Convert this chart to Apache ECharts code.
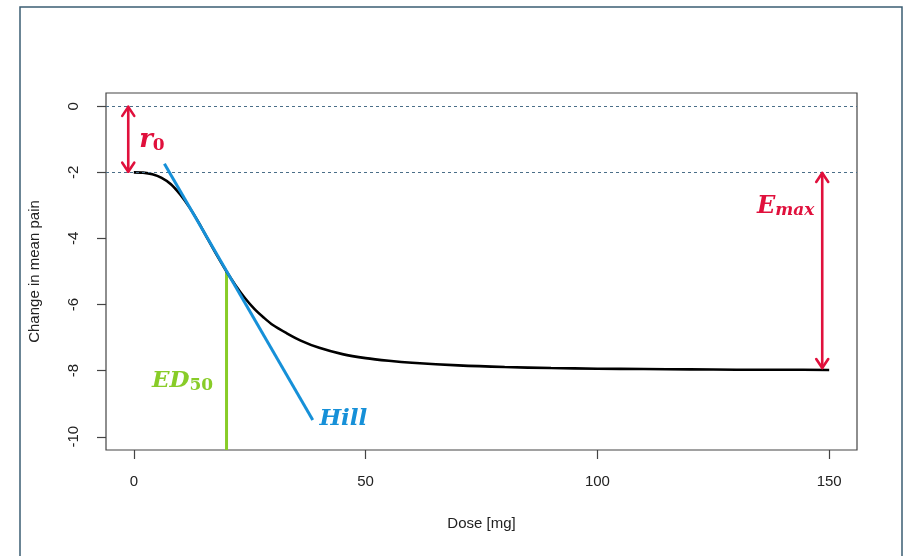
<!DOCTYPE html>
<html>
<head>
<meta charset="utf-8">
<script src="https://cdn.jsdelivr.net/npm/echarts@6/dist/echarts.min.js"></script>
<style>
  html, body { margin: 0; padding: 0; background: #fff; }
  #chart { width: 912px; height: 556px; }
</style>
</head>
<body>
<div id="chart"></div>
<script>
// dose-response curve
const doses = [0, 2, 4, 6, 8, 10, 12, 14, 16, 18, 20, 22, 24, 26, 28, 30, 33, 36, 40, 45, 50, 55, 60, 70, 80, 90, 100, 110, 120, 130, 140, 150];
const response = [-2.00, -2.01, -2.06, -2.17, -2.36, -2.67, -3.06, -3.52, -4.03, -4.53, -5.00, -5.43, -5.81, -6.13, -6.39, -6.62, -6.87, -7.09, -7.31, -7.50, -7.62, -7.70, -7.76, -7.84, -7.89, -7.92, -7.94, -7.95, -7.96, -7.97, -7.97, -7.98];

const hillLine = [[6.6, -1.74], [38.6, -9.49]];
const ed50Line = [[20, -5.0], [20, -10.4]];
const refLevels = [0, -2];
// [x, yFrom, yTo]
const arrows = [[-1.2, -0.02, -1.98], [148.5, -2.02, -7.92]];

const xTicks = [0, 50, 100, 150];
const yTicks = [-10, -8, -6, -4, -2, 0];

const COL_RED = "#e0103c";
const COL_BLUE = "#1690d8";
const COL_GREEN = "#88cc28";
const MATH_FONT = "'DejaVu Serif', 'Liberation Serif', serif";

const chart = echarts.init(document.getElementById("chart"), null, { renderer: "canvas" });

function arrowItem(params, api) {
  const a = api.coord([api.value(0), api.value(1)]);
  const b = api.coord([api.value(0), api.value(2)]);
  const h = 9, w = 6;
  const st = { stroke: COL_RED, lineWidth: 2.6, fill: null, lineCap: "round", lineJoin: "round" };
  return {
    type: "group",
    children: [
      { type: "line", shape: { x1: a[0], y1: a[1], x2: b[0], y2: b[1] }, style: st },
      { type: "polyline", shape: { points: [[a[0] - w, a[1] + h], [a[0], a[1]], [a[0] + w, a[1] + h]] }, style: st },
      { type: "polyline", shape: { points: [[b[0] - w, b[1] - h], [b[0], b[1]], [b[0] + w, b[1] - h]] }, style: st }
    ]
  };
}

function textLabel(x, y, fmt, rich) {
  Object.keys(rich).forEach(k => { rich[k].textBorderWidth = 0; rich[k].textShadowBlur = 0; });
  return {
    type: "scatter",
    data: [[x, y]],
    symbolSize: 0,
    silent: true,
    itemStyle: { color: "transparent" },
    label: { show: true, position: "inside", formatter: fmt, rich: rich, textBorderWidth: 0, opacity: 1 },
    z: 10
  };
}

chart.setOption({
  animation: false,
  graphic: [{
    type: "rect",
    shape: { x: 20, y: 7, width: 882, height: 570 },
    style: { fill: null, stroke: "#3b5d73", lineWidth: 1.5 },
    silent: true
  }],
  grid: {
    left: 106, right: 55, top: 93, bottom: 106,
    show: true, borderColor: "#444", borderWidth: 1.2, backgroundColor: "transparent"
  },
  xAxis: {
    type: "value",
    min: -6, max: 156,
    name: "Dose [mg]",
    nameLocation: "middle",
    nameGap: 66,
    nameTextStyle: { fontFamily: "Liberation Sans, Arial", fontSize: 15, color: "#222" },
    axisLine: { show: false, onZero: false },
    axisTick: { show: true, inside: false, customValues: xTicks, length: 9, lineStyle: { color: "#444", width: 1.2 } },
    axisLabel: { customValues: xTicks, margin: 24, fontFamily: "Liberation Sans, Arial", fontSize: 15, color: "#222" },
    splitLine: { show: false }
  },
  yAxis: {
    type: "value",
    min: -10.4, max: 0.4,
    name: "Change in mean pain",
    nameLocation: "middle",
    nameGap: 64,
    nameTextStyle: { fontFamily: "Liberation Sans, Arial", fontSize: 15, color: "#222" },
    axisLine: { show: false, onZero: false },
    axisTick: { show: true, inside: false, customValues: yTicks, length: 9, lineStyle: { color: "#444", width: 1.2 } },
    axisLabel: { customValues: yTicks, rotate: 90, margin: 25, fontFamily: "Liberation Sans, Arial", fontSize: 15, color: "#222" },
    splitLine: { show: false }
  },
  series: [
    {
      name: "ref",
      type: "line",
      data: [],
      markLine: {
        silent: true,
        symbol: ["none", "none"],
        label: { show: false },
        lineStyle: { color: "#4a6e88", type: [3, 3], width: 1 },
        data: refLevels.map(v => ({ yAxis: v }))
      }
    },
    {
      name: "ED50",
      type: "line",
      data: ed50Line,
      symbol: "none",
      lineStyle: { color: COL_GREEN, width: 3 },
      z: 3
    },
    {
      name: "curve",
      type: "line",
      data: doses.map((d, i) => [d, response[i]]),
      symbol: "none",
      smooth: 0.3,
      lineStyle: { color: "#000", width: 2.6 },
      z: 4
    },
    {
      name: "Hill",
      type: "line",
      data: hillLine,
      symbol: "none",
      lineStyle: { color: COL_BLUE, width: 3 },
      z: 5
    },
    {
      name: "arrows",
      type: "custom",
      data: arrows,
      renderItem: arrowItem,
      silent: true,
      z: 6
    },
    textLabel(3.9, -1.03, "{a|r}{s|0}", {
      a: { fontFamily: MATH_FONT, fontStyle: "italic", fontWeight: "bold", fontSize: 26, color: COL_RED },
      s: { fontFamily: MATH_FONT, fontWeight: "bold", fontSize: 17, color: COL_RED, padding: [10, 0, 0, 0] }
    }),
    textLabel(140.6, -3.05, "{a|E}{s|max}", {
      a: { fontFamily: MATH_FONT, fontStyle: "italic", fontWeight: "bold", fontSize: 24, color: COL_RED },
      s: { fontFamily: MATH_FONT, fontStyle: "italic", fontWeight: "bold", fontSize: 17, color: COL_RED, padding: [8, 0, 0, 0] }
    }),
    textLabel(10.5, -8.3, "{a|ED}{s|50}", {
      a: { fontFamily: MATH_FONT, fontStyle: "italic", fontWeight: "bold", fontSize: 23, color: COL_GREEN },
      s: { fontFamily: MATH_FONT, fontWeight: "bold", fontSize: 17, color: COL_GREEN, padding: [10, 0, 0, 0] }
    }),
    textLabel(45.2, -9.45, "{a|Hill}", {
      a: { fontFamily: MATH_FONT, fontStyle: "italic", fontWeight: "bold", fontSize: 23, color: COL_BLUE }
    })
  ]
});

window.addEventListener("resize", () => chart.resize());
</script>
</body>
</html>
